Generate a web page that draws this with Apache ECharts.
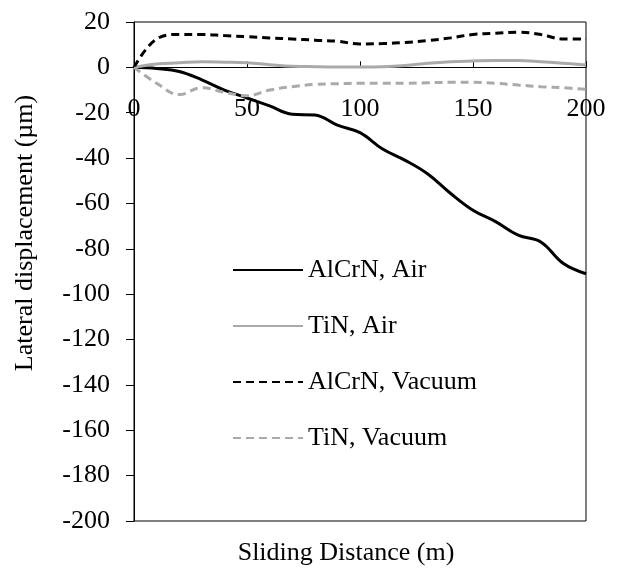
<!DOCTYPE html>
<html>
<head>
<meta charset="utf-8">
<script src="https://cdn.jsdelivr.net/npm/echarts@6/dist/echarts.min.js"></script>
<style>
  html, body { margin: 0; padding: 0; background: #fff; }
  #main { width: 617px; height: 569px; }
</style>
</head>
<body>
<div id="main"></div>
<script>
var distance = [0, 10, 20, 30, 40, 50, 60, 70, 80, 90, 100, 110, 120, 130, 140, 150, 160, 170, 180, 190, 200];
var alcrnAir = [0, -0.5, -1.8, -5.5, -10, -13.5, -17, -20.7, -21, -25.5, -28.8, -36, -41, -47, -55.5, -63, -68, -74, -77, -86.5, -91];
var tinAir = [0, 1.5, 2, 2.5, 2.3, 2, 1.2, 0.5, 0.3, 0.2, 0.2, 0.3, 0.8, 1.8, 2.5, 2.8, 3, 3, 2.5, 1.8, 1];
var alcrnVacuum = [0, 12.5, 14.5, 14.5, 14, 13.5, 13, 12.5, 12, 11.5, 10.3, 10.5, 11, 11.8, 13, 14.5, 15, 15.5, 14.5, 12.5, 12.5];
var tinVacuum = [0, -7, -12, -9, -11, -12.5, -10, -8.5, -7.5, -7.2, -7, -7, -7, -6.8, -6.6, -6.6, -7, -7.8, -8.5, -9, -9.7];
var seriesNames = ['AlCrN, Air', 'TiN, Air', 'AlCrN, Vacuum', 'TiN, Vacuum'];

function pairs(vals) {
  return distance.map(function (d, i) { return [d, vals[i]]; });
}

var font = 'Liberation Serif';
var plotH = 569 - 22 - 48;
var chartDom = document.getElementById('main');
var myChart = echarts.init(chartDom);
var option;

option = {
  animation: false,
  grid: {
    left: 134, right: 31, top: 22, bottom: 48,
    show: true, borderColor: '#000', borderWidth: 1
  },
  legend: {
    orient: 'vertical',
    left: 232, top: 257, padding: 0,
    itemWidth: 70, itemHeight: 14, itemGap: 30,
    data: seriesNames,
    itemStyle: { opacity: 0 },
    textStyle: { fontFamily: font, fontSize: 26, color: '#000' }
  },
  xAxis: {
    type: 'value', min: 0, max: 200, interval: 50,
    // axis sits on y = 0 (20 of 220 units below the top)
    offset: -plotH * 200 / 220,
    axisLine: { onZero: false, lineStyle: { color: '#000' } },
    axisTick: { inside: true, length: 6, lineStyle: { color: '#000' } },
    axisLabel: { margin: 29, fontFamily: font, fontSize: 26, color: '#000' },
    splitLine: { show: false }
  },
  yAxis: {
    type: 'value', min: -200, max: 20, interval: 20,
    axisLine: { show: true, lineStyle: { color: '#000' } },
    axisTick: { show: true, length: 8, lineStyle: { color: '#000' } },
    axisLabel: { margin: 24, fontFamily: font, fontSize: 26, color: '#000' },
    splitLine: { show: false }
  },
  graphic: [
    {
      type: 'text', x: 25, y: 233, rotation: Math.PI / 2,
      style: { text: 'Lateral displacement (µm)', fontFamily: font, fontSize: 26, fill: '#000', align: 'center', verticalAlign: 'middle' }
    },
    {
      type: 'text', x: 346, y: 553,
      style: { text: 'Sliding Distance (m)', fontFamily: font, fontSize: 26, fill: '#000', align: 'center', verticalAlign: 'middle' }
    }
  ],
  series: [
    { name: seriesNames[0], type: 'line', smooth: 0.4, symbol: 'none', data: pairs(alcrnAir),
      lineStyle: { color: '#000', width: 3 }, itemStyle: { color: '#000' } },
    { name: seriesNames[1], type: 'line', smooth: 0.4, symbol: 'none', data: pairs(tinAir),
      lineStyle: { color: '#aaaaaa', width: 3 }, itemStyle: { color: '#aaaaaa' } },
    { name: seriesNames[2], type: 'line', smooth: 0.4, symbol: 'none', data: pairs(alcrnVacuum),
      lineStyle: { color: '#000', width: 3, type: [8, 5] }, itemStyle: { color: '#000' } },
    { name: seriesNames[3], type: 'line', smooth: 0.4, symbol: 'none', data: pairs(tinVacuum),
      lineStyle: { color: '#aaaaaa', width: 3, type: [8, 5] }, itemStyle: { color: '#aaaaaa' } }
  ]
};
option && myChart.setOption(option);
</script>
</body>
</html>
